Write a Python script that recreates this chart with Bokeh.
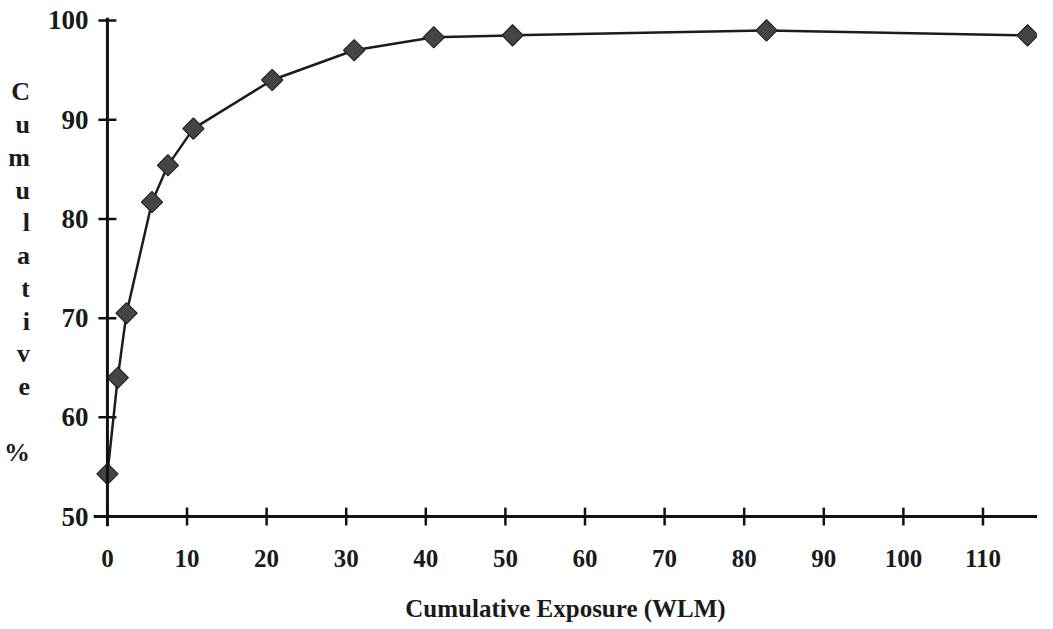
import math
from bokeh.plotting import figure
from bokeh.models import Range1d, FixedTicker, Span
from bokeh.embed import file_html
from bokeh.resources import INLINE

# ---- data ----
exposure_wlm = [0, 1.3, 2.4, 5.6, 7.6, 10.8, 20.7, 31.0, 41.0, 50.9, 82.8, 115.6]
cumulative_pct = [54.3, 64.0, 70.5, 81.7, 85.4, 89.1, 94.0, 97.0, 98.3, 98.5, 99.0, 98.5]

x_ticks = [0, 10, 20, 30, 40, 50, 60, 70, 80, 90, 100, 110]
y_ticks = [50, 60, 70, 80, 90, 100]
x_title = "Cumulative Exposure (WLM)"
y_title = "\n".join(list("Cumulative") + ["", "%"])

FONT = "Liberation Serif"
INK = "#1a1a1a"

p = figure(
    width=1037, height=626,
    x_range=Range1d(-1.75, 116.85), y_range=Range1d(49.0, 100.3),
    output_backend="svg", toolbar_location=None,
    min_border_left=87, min_border_right=0, min_border_top=17, min_border_bottom=100,
)
p.grid.visible = False
p.outline_line_color = None
p.background_fill_color = "white"
p.border_fill_color = "white"

for ax in (p.xaxis[0], p.yaxis[0]):
    ax.axis_line_color = None
    ax.major_tick_line_color = None
    ax.minor_tick_line_color = None
    ax.major_tick_out = 0
    ax.major_tick_in = 0
    ax.minor_tick_out = 0
    ax.minor_tick_in = 0
    ax.major_label_text_font = FONT
    ax.major_label_text_font_style = "bold"
    ax.major_label_text_color = INK
    ax.axis_label_text_font = FONT
    ax.axis_label_text_font_style = "bold"
    ax.axis_label_text_color = INK

p.xaxis.ticker = FixedTicker(ticks=x_ticks)
p.yaxis.ticker = FixedTicker(ticks=y_ticks)
p.xaxis.major_label_text_font_size = "25px"
p.yaxis.major_label_text_font_size = "27px"
p.xaxis.major_label_standoff = 23
p.yaxis.major_label_standoff = 5

p.xaxis.axis_label = x_title
p.xaxis.axis_label_text_font_size = "25px"
p.xaxis.axis_label_standoff = 25

p.yaxis.axis_label = y_title
p.yaxis.axis_label_orientation = "horizontal"
p.yaxis.axis_label_text_font_size = "26px"
p.yaxis.axis_label_text_line_height = 1.13
p.yaxis.axis_label_standoff = 15

p.add_layout(Span(location=y_ticks[0], dimension="width", line_color="#111111", line_width=3))
p.add_layout(Span(location=x_ticks[0], dimension="height", line_color="#111111", line_width=3))

p.scatter([x_ticks[0]] * len(y_ticks), y_ticks, marker="dash", size=18,
          line_color="#111111", line_width=2.5)
p.scatter(x_ticks, [y_ticks[0]] * len(x_ticks), marker="dash", angle=math.pi / 2,
          size=18, line_color="#111111", line_width=2.5)

p.line(exposure_wlm, cumulative_pct, line_color="#1c1c1c", line_width=2.5)
p.scatter(exposure_wlm, cumulative_pct, marker="square", angle=math.pi / 4, size=15,
          fill_color="#454545", line_color="#222222", line_width=1.2)

open("out.html", "w").write(file_html(p, INLINE))
